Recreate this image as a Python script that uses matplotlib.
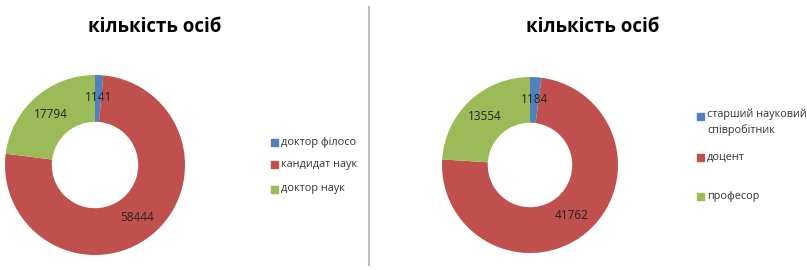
#! /usr/bin/env python3

"""
Two donut charts: number of persons by scientific degree and by academic title.
"""

import matplotlib
matplotlib.use('Agg')
import matplotlib.pyplot as plt
from matplotlib.lines import Line2D
from matplotlib.patches import Rectangle

plt.rcParams['font.family'] = ['Open Sans', 'DejaVu Sans']

title = 'кількість осіб'

# scientific degree
degree_labels = ['доктор філософії', 'кандидат наук', 'доктор наук']
degree_values = [1141, 58444, 17794]

# academic title
rank_labels = ['старший науковий\nспівробітник', 'доцент', 'професор']
rank_values = [1184, 41762, 13554]

colors = ['#4F81BD', '#C0504D', '#9BBB59']

W, H = 807, 270
fig = plt.figure(figsize=(W / 100, H / 100), dpi=100)


def px_axes(cx, cy, r):
    # axes box in pixel coords (cy measured from the top)
    return fig.add_axes([(cx - r) / W, (H - cy - r) / H, 2 * r / W, 2 * r / H])


def donut(ax, values):
    wedges, _, autotexts = ax.pie(values, colors=colors, startangle=90, counterclock=False,
                                  radius=1, autopct=lambda p: f'{p * sum(values) / 100:.0f}',
                                  pctdistance=0.75,
                                  wedgeprops=dict(width=0.52, edgecolor='none'),
                                  textprops=dict(fontsize=8.5, color='#222222'))
    ax.set_xlim(-1, 1)
    ax.set_ylim(-1, 1)
    ax.set_aspect('equal')
    return wedges


ax1 = px_axes(95, 165, 90)
donut(ax1, degree_values)
ax2 = px_axes(530, 165, 88)
donut(ax2, rank_values)

# titles
fig.text(155 / W, 1 - 27 / H, title, ha='center', va='center', fontsize=13.4, fontweight='bold')
fig.text(593 / W, 1 - 27 / H, title, ha='center', va='center', fontsize=13.4, fontweight='bold')

# separator
fig.add_artist(Line2D([369 / W, 369 / W], [1 - 7 / H, 1 - 265 / H], color='#BFBFBF', lw=1.5))


# legends drawn by hand to keep Excel-like placement
def legend(x, ys, labels, clip_x=None):
    for y, lab, c in zip(ys, labels, colors):
        fig.add_artist(Rectangle((x / W, 1 - (y + 3.5) / H), 7 / W, 7 / H, color=c,
                                 transform=fig.transFigure))
        t = fig.text((x + 10) / W, 1 - y / H, lab, ha='left', va='top' if '\n' in lab else 'center',
                     fontsize=7.8, color='#333333', linespacing=1.45)
        if '\n' in lab:
            t.set_y(1 - (y - 7) / H)
        if clip_x is not None:
            clip = Rectangle((0, 0), clip_x / W, 1, transform=fig.transFigure, visible=False)
            fig.add_artist(clip)
            t.set_clip_path(clip)


legend(271, [142, 164, 189], degree_labels, clip_x=357)
legend(697, [116, 157, 196], rank_labels)

fig.savefig('out.png', dpi=100)
